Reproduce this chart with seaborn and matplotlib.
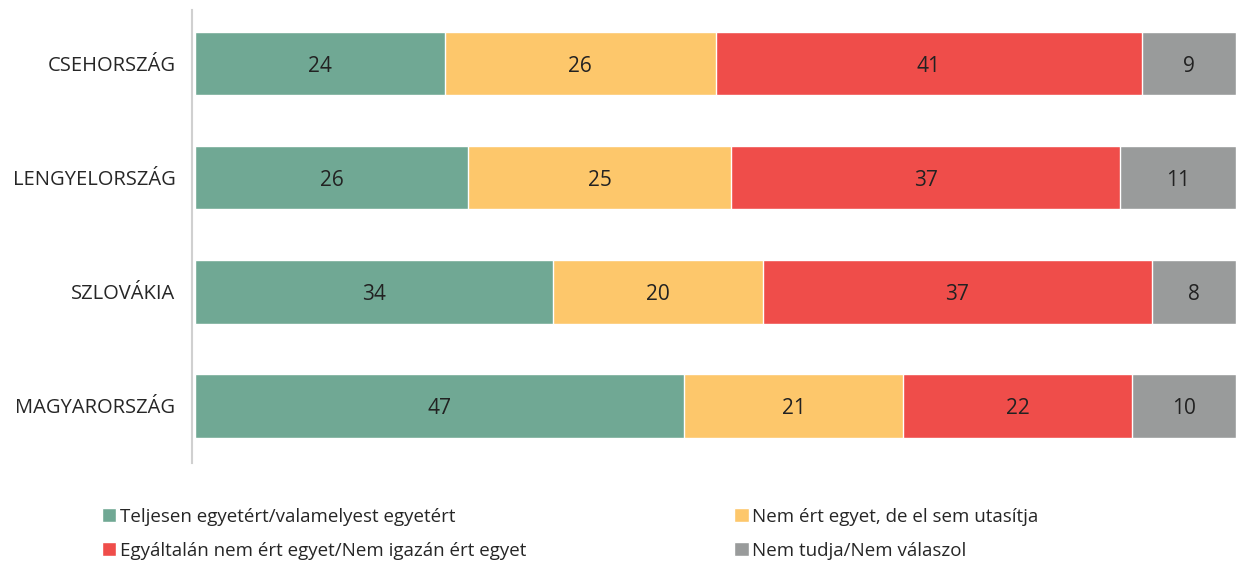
import numpy as np
import pandas as pd
import seaborn as sns
from matplotlib import pyplot as plt
from matplotlib.patches import Patch

countries = ["CSEHORSZÁG", "LENGYELORSZÁG", "SZLOVÁKIA", "MAGYARORSZÁG"]
agree = [24, 26, 34, 47]
neutral = [26, 25, 20, 21]
disagree = [41, 37, 37, 22]
dont_know = [9, 11, 8, 10]

series = ["Teljesen egyetért/valamelyest egyetért",
          "Nem ért egyet, de el sem utasítja",
          "Egyáltalán nem ért egyet/Nem igazán ért egyet",
          "Nem tudja/Nem válaszol"]
colors = ["#70A894", "#FDC76B", "#EF4D4A", "#999B9B"]

sns.set_style("white")
plt.rcParams['font.family'] = ['Open Sans', 'DejaVu Sans']

df = pd.DataFrame({"country": countries, series[0]: agree, series[1]: neutral,
                   series[2]: disagree, series[3]: dont_know})
vals = df[series].to_numpy(dtype=float)
# 100% stacked: scale each row to its total
share = vals / vals.sum(axis=1, keepdims=True) * 100
cum = np.cumsum(share, axis=1)

fig = plt.figure(figsize=(12.36, 5.63), dpi=100)
ax = fig.add_axes([0.1578, 0.1776, 0.8422, 0.8046])

# draw cumulative totals from the back so each segment shows
for i in range(3, -1, -1):
    sns.barplot(x=cum[:, i], y=df["country"], color=colors[i], orient="h",
                saturation=1, width=0.555, edgecolor="white", linewidth=1.0, ax=ax)

for r in range(len(countries)):
    for i in range(4):
        mid = cum[r, i] - share[r, i] / 2
        ax.text(mid, r, f"{int(vals[r, i])}", ha="center", va="center_baseline",
                fontsize=15, color="#222222")

ax.set_xlim(0, 100)
ax.set_ylim(3.5, -0.47)
ax.set_xlabel("")
ax.set_ylabel("")
ax.set_xticks([])
ax.tick_params(axis="y", length=0, pad=12, labelsize=14.5, labelcolor="#262626")
for s in ["top", "right", "bottom"]:
    ax.spines[s].set_visible(False)
ax.spines["left"].set_color("#D0D0D0")
ax.spines["left"].set_linewidth(1.5)
ax.spines["left"].set_position(("outward", 2))

order = [0, 2, 1, 3]
handles = [Patch(facecolor=colors[i]) for i in order]
labels = [series[i] for i in order]
fig.legend(handles, labels, ncol=2, loc="upper left", bbox_to_anchor=(0.069, 0.128),
           frameon=False, fontsize=13.5, handlelength=0.75, handleheight=0.75,
           handletextpad=0.2, columnspacing=11.1, labelspacing=0.85,
           labelcolor="#262626")

plt.savefig("out.png", dpi=100)
